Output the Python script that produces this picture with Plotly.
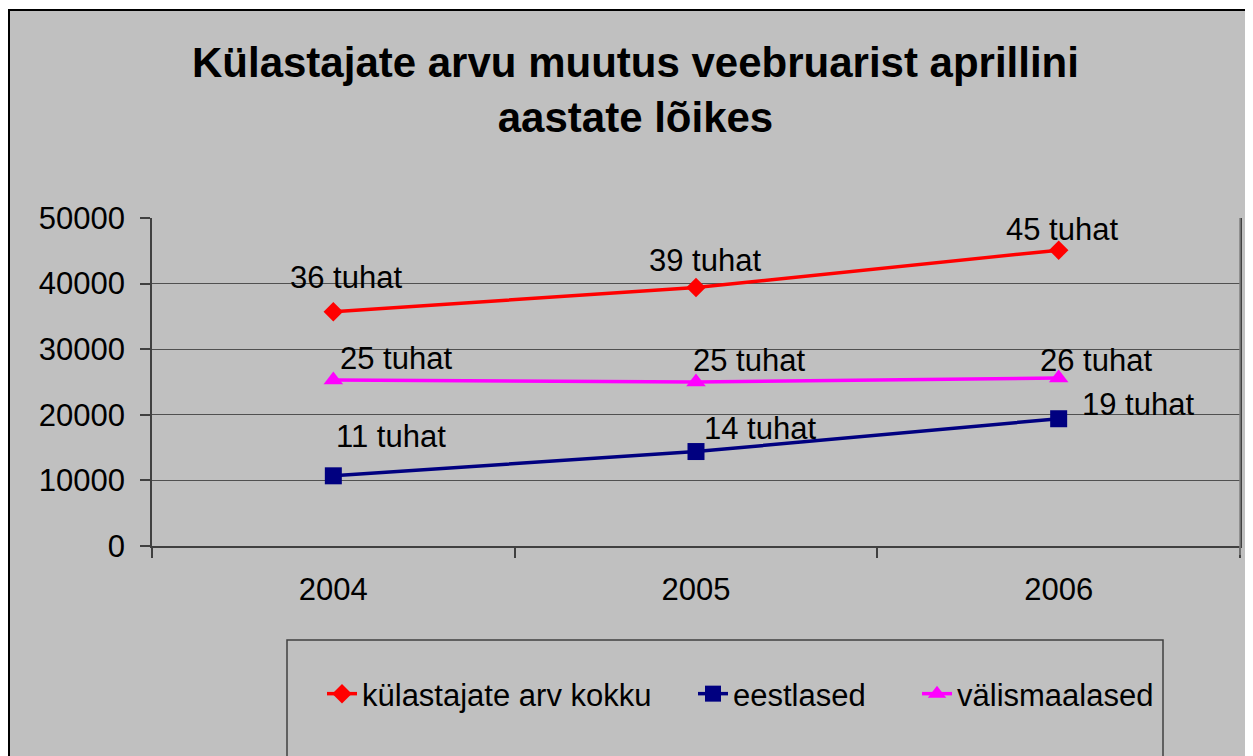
import plotly.graph_objects as go

# ---- data ----
years = ["2004", "2005", "2006"]
total_visitors = [35700, 39400, 45100]      # külastajate arv kokku
estonians = [10700, 14400, 19400]           # eestlased
foreigners = [25300, 25000, 25600]          # välismaalased
series_names = ["külastajate arv kokku", "eestlased", "välismaalased"]
y_ticks = [0, 10000, 20000, 30000, 40000, 50000]
y_tick_labels = ["0", "10000", "20000", "30000", "40000", "50000"]
title_text = "Külastajate arvu muutus veebruarist aprillini<br>aastate lõikes"

# ---- styles ----
FONT = "Liberation Sans, Arial, sans-serif"
FS = 31
colors = ["#FF0000", "#000080", "#FF00FF"]
symbols = ["diamond", "square", "triangle-up"]
msizes = [15, 17, 17]
# label offsets (px) per series / point  (xshift, yshift)
label_offsets = [
    [(13, 34), (9, 27), (3, 21)],
    [(58, 39), (64, 23), (79, 14)],
    [(63, 22), (53, 22), (37, 18)],
]
legend_x_px = [322, 693, 917]

# the page body has an 8px margin: figure is placed at (8,8)
OFF = 8
W, H = 1253 - OFF, 756 - OFF
L, R, T, B = 152 - OFF, 13, 218 - OFF, 210
PW, PH = W - L - R, H - T - B


def px2x(px):  # px in reference screen coordinates
    return (px - OFF - L) / PW


def px2y(py):
    return (H - B - (py - OFF)) / PH


fig = go.Figure()
all_series = [total_visitors, estonians, foreigners]
legend_ids = ["legend", "legend2", "legend3"]
for i, vals in enumerate(all_series):
    fig.add_trace(go.Scatter(
        x=years, y=vals, mode="lines+markers", name=series_names[i],
        line=dict(color=colors[i], width=3.5),
        marker=dict(symbol=symbols[i], size=msizes[i], color=colors[i]),
        legend=legend_ids[i], cliponaxis=False,
    ))
    for j, v in enumerate(vals):
        dx, dy = label_offsets[i][j]
        fig.add_annotation(
            x=j, y=v, xref="x", yref="y",  # category index j
            text=f"{round(v / 1000)} tuhat", showarrow=False,
            xshift=dx, yshift=dy, xanchor="center", yanchor="middle",
            font=dict(family=FONT, size=FS, color="black"),
        )

# title as annotation
fig.add_annotation(
    x=px2x(635), y=px2y(37), xref="paper", yref="paper",
    xanchor="center", yanchor="top", showarrow=False, text=title_text,
    font=dict(family=FONT, size=42, color="black", weight="bold"),
)

shapes = [
    # outer chart border with grey fill
    dict(type="rect", xref="paper", yref="paper", layer="below",
         x0=px2x(9), x1=px2x(1300), y0=px2y(10), y1=px2y(800),
         line=dict(color="black", width=2), fillcolor="#C0C0C0"),
    # legend box
    dict(type="rect", xref="paper", yref="paper", layer="below",
         x0=px2x(287), x1=px2x(1163), y0=px2y(640), y1=px2y(800),
         line=dict(color="#404040", width=1.5), fillcolor="rgba(0,0,0,0)"),
    # right border of plot area in lighter grey extending below the axis
    dict(type="line", xref="paper", yref="paper", x0=1, x1=1,
         y0=px2y(555), y1=1, line=dict(color="#808080", width=1.5)),
]

layout_legends = {}
for k, lid in enumerate(legend_ids):
    layout_legends[lid] = dict(
        x=px2x(legend_x_px[k]), y=px2y(694), xanchor="left", yanchor="middle",
        orientation="h", bgcolor="rgba(0,0,0,0)", borderwidth=0,
        font=dict(family=FONT, size=FS, color="black"),
    )

fig.update_layout(
    width=W, height=H,
    margin=dict(l=L, r=R, t=T, b=B, pad=0),
    paper_bgcolor="white", plot_bgcolor="rgba(0,0,0,0)",
    shapes=shapes,
    showlegend=True,
    xaxis=dict(type="category", range=[-0.5, 2.5], tickson="boundaries",
               ticks="outside", ticklen=10, tickcolor="#404040", tickwidth=1.5,
               showline=True, linecolor="#404040", linewidth=1.5,
               showgrid=False, zeroline=False, mirror=False,
               ticklabelstandoff=15,
               tickfont=dict(family=FONT, size=FS, color="black")),
    yaxis=dict(range=[0, 50000], tickvals=y_ticks, ticktext=y_tick_labels,
               ticks="outside", ticklen=10,
               tickcolor="#404040", tickwidth=1.5,
               showline=True, linecolor="#404040", linewidth=1.5,
               mirror=True, showgrid=True, gridcolor="#505050", gridwidth=1.3,
               zeroline=False, ticklabelstandoff=9,
               tickfont=dict(family=FONT, size=FS, color="black")),
    **layout_legends,
)

fig.write_html("out.html")
